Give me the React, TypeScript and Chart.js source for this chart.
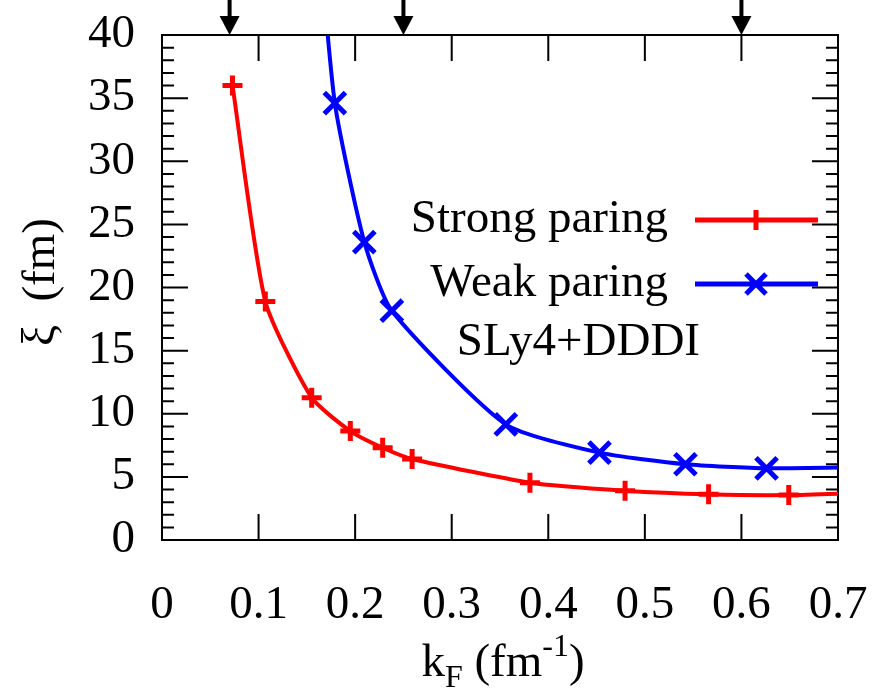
import { useEffect, useRef } from "react";
import { Chart, registerables } from "chart.js";
Chart.register(...registerables);

// ---- data ----
const strongK = [0.073, 0.107, 0.155, 0.195, 0.2285, 0.259, 0.381, 0.4795, 0.566, 0.649, 0.75];
const strongXi = [36.0, 18.9, 11.27, 8.63, 7.31, 6.42, 4.54, 3.91, 3.62, 3.56, 3.8];
const weakK = [0.161, 0.179, 0.2095, 0.238, 0.356, 0.453, 0.542, 0.626, 0.75];
const weakXi = [49.3, 34.6, 23.6, 18.16, 9.16, 6.92, 6.0, 5.68, 5.8];

const xTicks = [0, 0.1, 0.2, 0.3, 0.4, 0.5, 0.6, 0.7];
const yTicks = [0, 5, 10, 15, 20, 25, 30, 35, 40];
const yMinorTicks = Array.from({ length: 41 }, (_, i) => i).filter((v) => v % 5 !== 0);
const arrowK = [0.07, 0.25, 0.6];

const seriesNames = ["Strong paring", "Weak paring"];
const modelLabel = "SLy4+DDDI";
const yTitle = "\u03be  (fm)";

const FONT = "'Liberation Serif', 'DejaVu Serif', serif";
const RED = "#ff0000";
const BLUE = "#0000ff";

const decorPlugin = {
  id: "decor",
  beforeDatasetsDraw(chart: any) {
    const { ctx, chartArea: a, scales } = chart;
    const xs = scales.x;
    const ys = scales.y;
    ctx.save();
    ctx.strokeStyle = "#000";
    ctx.lineWidth = 2;
    ctx.beginPath();
    for (const v of xTicks) {
      const px = xs.getPixelForValue(v);
      ctx.moveTo(px, a.bottom);
      ctx.lineTo(px, a.bottom - 26);
      ctx.moveTo(px, a.top);
      ctx.lineTo(px, a.top + 26);
    }
    for (const v of yTicks) {
      const py = ys.getPixelForValue(v);
      ctx.moveTo(a.left, py);
      ctx.lineTo(a.left + 26, py);
      ctx.moveTo(a.right, py);
      ctx.lineTo(a.right - 26, py);
    }
    for (const v of yMinorTicks) {
      const py = ys.getPixelForValue(v);
      ctx.moveTo(a.left, py);
      ctx.lineTo(a.left + 12, py);
      ctx.moveTo(a.right, py);
      ctx.lineTo(a.right - 12, py);
    }
    ctx.stroke();
    ctx.strokeRect(a.left, a.top, a.right - a.left, a.bottom - a.top);
    ctx.restore();
  },
  afterDraw(chart: any) {
    const { ctx, chartArea: a, scales } = chart;
    const xs = scales.x;
    ctx.save();
    // arrows at the top
    ctx.fillStyle = "#000";
    ctx.strokeStyle = "#000";
    for (const k of arrowK) {
      const px = xs.getPixelForValue(k);
      ctx.lineWidth = 4;
      ctx.beginPath();
      ctx.moveTo(px, 0);
      ctx.lineTo(px, a.top - 14);
      ctx.stroke();
      ctx.beginPath();
      ctx.moveTo(px - 10, a.top - 19);
      ctx.lineTo(px + 10, a.top - 19);
      ctx.lineTo(px, a.top);
      ctx.closePath();
      ctx.fill();
    }

    // legend
    ctx.font = `47px ${FONT}`;
    ctx.fillStyle = "#000";
    ctx.textAlign = "right";
    ctx.textBaseline = "middle";
    const rows = [
      { name: seriesNames[0], color: RED, y: 220, mk: "plus" },
      { name: seriesNames[1], color: BLUE, y: 284, mk: "x" },
    ];
    for (const r of rows) {
      ctx.fillStyle = "#000";
      ctx.fillText(r.name, 668, r.y);
      ctx.strokeStyle = r.color;
      ctx.lineWidth = 5;
      ctx.beginPath();
      ctx.moveTo(695, r.y);
      ctx.lineTo(818, r.y);
      if (r.mk === "plus") {
        ctx.moveTo(756, r.y - 10);
        ctx.lineTo(756, r.y + 10);
      } else {
        ctx.moveTo(756 - 10, r.y - 10);
        ctx.lineTo(756 + 10, r.y + 10);
        ctx.moveTo(756 - 10, r.y + 10);
        ctx.lineTo(756 + 10, r.y - 10);
      }
      ctx.stroke();
    }
    ctx.fillStyle = "#000";
    ctx.fillText(modelLabel, 700, 343);

    // y title
    ctx.save();
    ctx.translate(42, 282);
    ctx.rotate(-Math.PI / 2);
    ctx.textAlign = "center";
    ctx.fillText(yTitle, 0, 0);
    ctx.restore();

    // x title: k_F (fm^-1)
    const big = `47px ${FONT}`;
    const small = `32px ${FONT}`;
    const parts = [
      { t: "k", f: big, dy: 0 },
      { t: "F", f: small, dy: 11 },
      { t: " (fm", f: big, dy: 0 },
      { t: "-1", f: small, dy: -20 },
      { t: ")", f: big, dy: 0 },
    ];
    let total = 0;
    for (const p of parts) {
      ctx.font = p.f;
      total += ctx.measureText(p.t).width;
    }
    let x = 503 - total / 2;
    const base = 676;
    ctx.textAlign = "left";
    ctx.textBaseline = "alphabetic";
    for (const p of parts) {
      ctx.font = p.f;
      ctx.fillText(p.t, x, base + p.dy);
      x += ctx.measureText(p.t).width;
    }
    ctx.restore();
  },
};

export default function App() {
  const ref = useRef<HTMLCanvasElement | null>(null);
  useEffect(() => {
    document.body.style.margin = "0";
    const canvas = ref.current;
    if (!canvas) return;
    const chart = new Chart(canvas, {
      type: "line",
      data: {
        datasets: [
          {
            label: seriesNames[0],
            data: strongK.map((k, i) => ({ x: k, y: strongXi[i] })),
            borderColor: RED,
            backgroundColor: RED,
            borderWidth: 4,
            pointStyle: "cross",
            pointRadius: 10,
            pointBorderWidth: 5,
            pointBorderColor: RED,
            tension: 0.2,
            clip: 0,
          },
          {
            label: seriesNames[1],
            data: weakK.map((k, i) => ({ x: k, y: weakXi[i] })),
            borderColor: BLUE,
            backgroundColor: BLUE,
            borderWidth: 4,
            pointStyle: "crossRot",
            pointRadius: 15,
            pointBorderWidth: 5,
            pointBorderColor: BLUE,
            tension: 0.2,
            clip: 0,
          },
        ],
      } as any,
      options: {
        animation: false,
        responsive: false,
        devicePixelRatio: 1,
        layout: { padding: { left: 0, top: 35, right: 55, bottom: 0 } },
        plugins: { legend: { display: false }, tooltip: { enabled: false } },
        scales: {
          x: {
            type: "linear",
            min: 0,
            max: 0.7,
            afterBuildTicks: (s: any) => {
              s.ticks = xTicks.map((v) => ({ value: v }));
            },
            afterFit: (s: any) => {
              s.height = 159;
              s.paddingLeft = 0;
              s.paddingRight = 0;
              s.paddingTop = 0;
              s.paddingBottom = 0;
            },
            grid: { display: false, drawTicks: false },
            border: { display: false },
            ticks: {
              padding: 37,
              color: "#000",
              font: { family: FONT, size: 47 },
              maxRotation: 0,
              autoSkip: false,
              callback: (v: any) => String(Number(Number(v).toFixed(1))),
            },
          },
          y: {
            type: "linear",
            min: 0,
            max: 40,
            afterBuildTicks: (s: any) => {
              s.ticks = yTicks.map((v) => ({ value: v }));
            },
            afterFit: (s: any) => {
              s.width = 162;
              s.paddingLeft = 0;
              s.paddingRight = 0;
              s.paddingTop = 0;
              s.paddingBottom = 0;
            },
            grid: { display: false, drawTicks: false },
            border: { display: false },
            ticks: {
              padding: 27,
              color: "#000",
              font: { family: FONT, size: 47 },
              autoSkip: false,
              callback: (v: any) => String(v),
            },
          },
        },
      } as any,
      plugins: [decorPlugin],
    });
    return () => chart.destroy();
  }, []);
  return (
    <div style={{ position: "absolute", left: 0, top: 0, width: 893, height: 699, background: "#fff" }}>
      <canvas ref={ref} width={893} height={699} style={{ display: "block", width: 893, height: 699 }} />
    </div>
  );
}
